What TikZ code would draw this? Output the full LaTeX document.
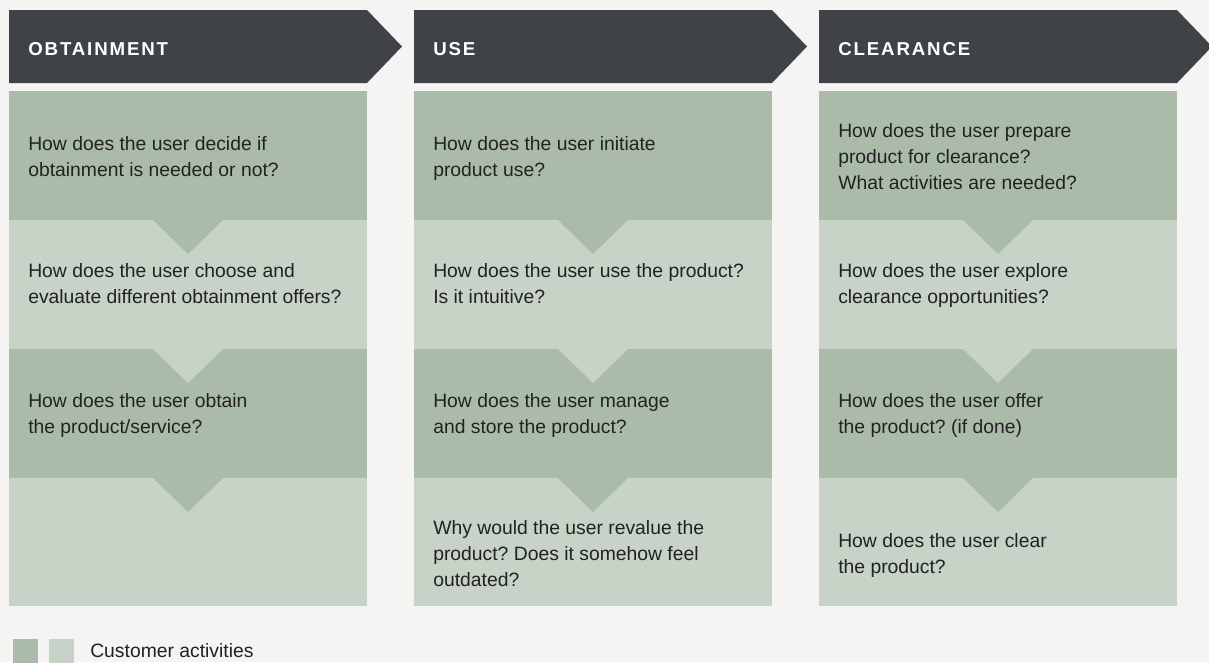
\documentclass[tikz,border=0pt]{standalone}
\usepackage{fontspec}
\setmainfont{Liberation Sans}
\newfontfamily\headfont{Liberation Sans}[LetterSpace=10]
\definecolor{hdr}{HTML}{3F4247}
\definecolor{dk}{HTML}{AABBA9}
\definecolor{lt}{HTML}{C6D3C6}
\definecolor{bg}{HTML}{F5F4F2}
\definecolor{txt}{HTML}{222222}
\frenchspacing
\tikzset{
  bodytext/.style={anchor=base west, inner sep=0pt, align=left, text=txt,
    font=\fontsize{14.5}{19.5}\selectfont\frenchspacing},
  headtext/.style={anchor=base west, inner sep=0pt, text=white,
    font=\headfont\bfseries\fontsize{14}{16}\selectfont},
}
\begin{document}
\begin{tikzpicture}[x=0.75pt,y=-0.75pt]
\fill[bg] (0,0) rectangle (1209,662);
\useasboundingbox (0,0) rectangle (1209,662);
\foreach \x/\nm/\lab in {9/ob/OBTAINMENT, 414/us/USE, 819/cl/CLEARANCE}{
  \fill[hdr] (\x,10) -- ({\x+358},10) -- ({\x+393},46.5) -- ({\x+358},83) -- (\x,83) -- cycle;
  \node[headtext] (h\nm) at ({\x+19},55.5) {\lab};
  \fill[dk] (\x,91) rectangle ({\x+358},220);
  \fill[lt] (\x,220) rectangle ({\x+358},349);
  \fill[dk] (\x,349) rectangle ({\x+358},478);
  \fill[lt] (\x,478) rectangle ({\x+358},606);
  \fill[dk] ({\x+144},220) -- ({\x+214},220) -- ({\x+179},254) -- cycle;
  \fill[lt] ({\x+144},349) -- ({\x+214},349) -- ({\x+179},383) -- cycle;
  \fill[dk] ({\x+144},478) -- ({\x+214},478) -- ({\x+179},512) -- cycle;
}
% column 1 (positions are baselines of the last line)
\node[bodytext] (ob1) at (28,176) {How does the user decide if\\obtainment is needed or not?};
\node[bodytext] (ob2) at (28,303) {How does the user choose and\\evaluate different obtainment offers?};
\node[bodytext] (ob3) at (28,433) {How does the user obtain\\the product/service?};
% column 2
\node[bodytext] (us1) at (433,176) {How does the user initiate\\product use?};
\node[bodytext] (us2) at (433,303) {How does the user use the product?\\Is it intuitive?};
\node[bodytext] (us3) at (433,433) {How does the user manage\\and store the product?};
\node[bodytext] (us4) at (433,586) {Why would the user revalue the\\product? Does it somehow feel\\outdated?};
% column 3
\node[bodytext] (cl1) at (838,189) {How does the user prepare\\product for clearance?\\What activities are needed?};
\node[bodytext] (cl2) at (838,303) {How does the user explore\\clearance opportunities?};
\node[bodytext] (cl3) at (838,433) {How does the user offer\\the product? (if done)};
\node[bodytext] (cl4) at (838,573) {How does the user clear\\the product?};
% legend
\fill[dk] (13,639) rectangle (38,664);
\fill[lt] (49,639) rectangle (74,664);
\node[bodytext] (leg) at (90,657) {Customer activities};
\end{tikzpicture}
\end{document}
